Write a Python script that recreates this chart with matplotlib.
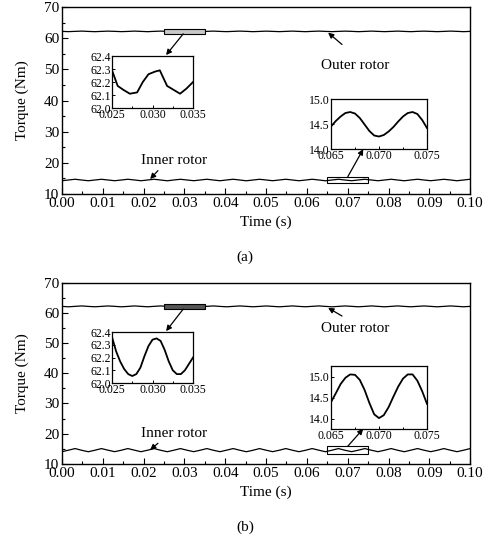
import numpy as np
import matplotlib
matplotlib.use("Agg")
import matplotlib.pyplot as plt
from matplotlib.patches import Rectangle
from matplotlib.ticker import MultipleLocator, FormatStrFormatter

plt.rcParams['font.family'] = ['Liberation Serif', 'DejaVu Serif']

# ---------------- data ----------------
# main traces, sampled every quarter ripple period over 0..0.1 s
n_main = 63
time_main = np.linspace(0.0, 0.1, n_main)

outer_a = [62.20, 62.12, 62.21, 62.29, 62.19, 62.11, 62.20, 62.28,
           62.21, 62.12, 62.19, 62.29, 62.20, 62.11, 62.21, 62.29,
           62.19, 62.12, 62.20, 62.28, 62.20, 62.11, 62.21, 62.29,
           62.19, 62.12, 62.20, 62.29, 62.21, 62.11, 62.19, 62.28,
           62.20, 62.12, 62.20, 62.29, 62.19, 62.11, 62.21, 62.29,
           62.20, 62.12, 62.20, 62.28, 62.21, 62.11, 62.19, 62.29,
           62.20, 62.12, 62.20, 62.29, 62.19, 62.11, 62.21, 62.28,
           62.20, 62.12, 62.20, 62.29, 62.21, 62.11, 62.20]
inner_a = [14.27, 14.51, 14.74, 14.49, 14.26, 14.50, 14.73, 14.50,
           14.27, 14.49, 14.74, 14.51, 14.26, 14.50, 14.74, 14.49,
           14.25, 14.51, 14.73, 14.50, 14.27, 14.50, 14.74, 14.49,
           14.26, 14.51, 14.74, 14.50, 14.25, 14.49, 14.73, 14.51,
           14.27, 14.50, 14.74, 14.50, 14.26, 14.49, 14.74, 14.51,
           14.25, 14.50, 14.74, 14.49, 14.27, 14.51, 14.73, 14.50,
           14.26, 14.50, 14.74, 14.49, 14.25, 14.51, 14.74, 14.50,
           14.27, 14.49, 14.73, 14.51, 14.26, 14.50, 14.74]
outer_b = [62.20, 62.06, 62.21, 62.35, 62.19, 62.07, 62.20, 62.34,
           62.21, 62.06, 62.19, 62.35, 62.20, 62.07, 62.21, 62.35,
           62.19, 62.06, 62.20, 62.34, 62.20, 62.07, 62.21, 62.35,
           62.19, 62.06, 62.20, 62.35, 62.21, 62.07, 62.19, 62.34,
           62.20, 62.06, 62.20, 62.35, 62.19, 62.07, 62.21, 62.35,
           62.20, 62.06, 62.20, 62.34, 62.21, 62.07, 62.19, 62.35,
           62.20, 62.06, 62.20, 62.35, 62.19, 62.07, 62.21, 62.34,
           62.20, 62.06, 62.20, 62.35, 62.21, 62.07, 62.20]
inner_b = [14.01, 14.52, 15.05, 14.48, 14.00, 14.50, 15.04, 14.51,
           14.02, 14.49, 15.05, 14.52, 14.01, 14.50, 15.05, 14.48,
           14.00, 14.51, 15.04, 14.50, 14.02, 14.50, 15.05, 14.49,
           14.01, 14.52, 15.05, 14.50, 14.00, 14.48, 15.04, 14.51,
           14.02, 14.50, 15.05, 14.50, 14.01, 14.49, 15.05, 14.52,
           14.00, 14.50, 15.05, 14.48, 14.02, 14.51, 15.04, 14.50,
           14.01, 14.50, 15.05, 14.49, 14.00, 14.52, 15.05, 14.50,
           14.02, 14.48, 15.04, 14.51, 14.01, 14.50, 15.05]

# zoomed insets
t_zoom_outer_a = [0.0250, 0.0257, 0.0264, 0.0272, 0.0281, 0.0288, 0.0295,
                  0.0303, 0.0309, 0.0318, 0.0326, 0.0334, 0.0342, 0.0350]
zoom_outer_a = [62.29, 62.17, 62.14, 62.11, 62.12, 62.20, 62.26,
                62.28, 62.29, 62.17, 62.14, 62.11, 62.15, 62.20]

t_zoom_outer_b = np.linspace(0.025, 0.035, 21)
zoom_outer_b = [62.36, 62.25, 62.17, 62.11, 62.07, 62.055, 62.07, 62.12,
                62.21, 62.29, 62.34, 62.35, 62.33, 62.26, 62.17, 62.10,
                62.07, 62.07, 62.10, 62.15, 62.20]

t_zoom_inner = np.linspace(0.065, 0.075, 21)
zoom_inner_a = [14.45, 14.56, 14.65, 14.72, 14.74, 14.71, 14.62, 14.49,
                14.36, 14.27, 14.25, 14.28, 14.35, 14.44, 14.55, 14.65,
                14.72, 14.74, 14.70, 14.58, 14.42]
zoom_inner_b = [14.39, 14.60, 14.82, 14.97, 15.05, 15.04, 14.92, 14.68,
                14.37, 14.10, 14.01, 14.08, 14.27, 14.52, 14.76, 14.95,
                15.05, 15.05, 14.90, 14.65, 14.35]

panels = [
    dict(outer=outer_a, inner=inner_a, z_to=t_zoom_outer_a, z_o=zoom_outer_a,
         z_i=zoom_inner_a, inner_ylim=(14.0, 15.0), tag='(a)',
         ax_rect=[0.1265, 0.644, 0.833, 0.343],
         ins_o=[0.2286, 0.8018, 0.1653, 0.0954],
         ins_i=[0.6755, 0.7266, 0.1959, 0.0917],
         box_o=(61.4, 62.9), box_o_fc='#c8c8c8', box_i=(13.5, 15.5),
         outer_txt=51.4, outer_tail=58.0, outer_head=61.8,
         inner_txt=20.8, inner_tail=17.5, inner_head=14.8,
         arr_o_head=54.6, arr_i_head=24.4, tag_y=0.528),
    dict(outer=outer_b, inner=inner_b, z_to=t_zoom_outer_b, z_o=zoom_outer_b,
         z_i=zoom_inner_b, inner_ylim=(13.75, 15.25), tag='(b)',
         ax_rect=[0.1265, 0.149, 0.833, 0.332],
         ins_o=[0.2286, 0.2972, 0.1653, 0.0936],
         ins_i=[0.6755, 0.2128, 0.1959, 0.1156],
         box_o=(61.3, 63.0), box_o_fc='#555555', box_i=(13.2, 15.8),
         outer_txt=55.0, outer_tail=59.0, outer_head=61.7,
         inner_txt=20.0, inner_tail=16.8, inner_head=14.6,
         arr_o_head=54.0, arr_i_head=21.6, tag_y=0.033),
]

fig = plt.figure(figsize=(4.9, 5.45), dpi=100)

arrow_kw = dict(arrowstyle='-|>', color='black', lw=0.9, mutation_scale=8,
                shrinkA=0, shrinkB=0)

for p in panels:
    ax = fig.add_axes(p['ax_rect'])
    ax.plot(time_main, p['outer'], color='black', lw=0.9)
    ax.plot(time_main, p['inner'], color='black', lw=0.9)
    ax.set_xlim(0, 0.1)
    ax.set_ylim(10, 70)
    ax.xaxis.set_major_locator(MultipleLocator(0.01))
    ax.xaxis.set_minor_locator(MultipleLocator(0.005))
    ax.yaxis.set_major_locator(MultipleLocator(10))
    ax.yaxis.set_minor_locator(MultipleLocator(5))
    ax.xaxis.set_major_formatter(FormatStrFormatter('%.2f'))
    ax.tick_params(which='both', direction='in', labelsize=11, pad=2, width=0.8)
    ax.tick_params(which='major', length=4)
    ax.tick_params(which='minor', length=2)
    for s in ax.spines.values():
        s.set_linewidth(1.0)
    ax.set_ylabel('Torque (Nm)', fontsize=11, labelpad=11)
    ax.set_xlabel('Time (s)', fontsize=11, labelpad=4)
    fig.text(0.5, p['tag_y'], p['tag'], ha='center', va='center', fontsize=11)

    # zoom boxes
    ax.add_patch(Rectangle((0.025, p['box_o'][0]), 0.010, p['box_o'][1] - p['box_o'][0],
                           facecolor=p['box_o_fc'], edgecolor='black', lw=0.8, zorder=3))
    ax.add_patch(Rectangle((0.065, p['box_i'][0]), 0.010, p['box_i'][1] - p['box_i'][0],
                           facecolor='none', edgecolor='black', lw=0.8, zorder=3))

    # annotations
    ax.annotate('', xy=(0.0255, p['arr_o_head']), xytext=(0.0297, p['box_o'][0]),
                arrowprops=arrow_kw)
    ax.annotate('', xy=(0.0738, p['arr_i_head']), xytext=(0.0700, p['box_i'][1]),
                arrowprops=arrow_kw)
    ax.text(0.0718, p['outer_txt'], 'Outer rotor', ha='center', va='center', fontsize=11)
    ax.annotate('', xy=(0.0652, p['outer_head']), xytext=(0.0686, p['outer_tail']),
                arrowprops=arrow_kw)
    ax.text(0.0275, p['inner_txt'], 'Inner rotor', ha='center', va='center', fontsize=11)
    ax.annotate('', xy=(0.0216, p['inner_head']), xytext=(0.0235, p['inner_tail']),
                arrowprops=arrow_kw)

    # insets
    a1 = fig.add_axes(p['ins_o'])
    a1.plot(p['z_to'], p['z_o'], color='black', lw=1.3)
    a1.set_xlim(0.025, 0.035)
    a1.set_ylim(62.0, 62.4)
    a1.set_xticks([0.025, 0.030, 0.035])
    a1.set_yticks([62.0, 62.1, 62.2, 62.3, 62.4])
    a1.xaxis.set_minor_locator(MultipleLocator(0.0025))
    a1.xaxis.set_major_formatter(FormatStrFormatter('%.3f'))
    a1.yaxis.set_major_formatter(FormatStrFormatter('%.1f'))

    a2 = fig.add_axes(p['ins_i'])
    a2.plot(t_zoom_inner, p['z_i'], color='black', lw=1.3)
    a2.set_xlim(0.065, 0.075)
    a2.set_ylim(*p['inner_ylim'])
    a2.set_xticks([0.065, 0.070, 0.075])
    a2.set_yticks([14.0, 14.5, 15.0])
    a2.xaxis.set_minor_locator(MultipleLocator(0.0025))
    a2.xaxis.set_major_formatter(FormatStrFormatter('%.3f'))
    a2.yaxis.set_major_formatter(FormatStrFormatter('%.1f'))

    for a in (a1, a2):
        a.tick_params(which='both', direction='in', labelsize=8.5, pad=1, width=0.7)
        a.tick_params(which='major', length=2.5)
        a.tick_params(which='minor', length=1.5)
        for s in a.spines.values():
            s.set_linewidth(0.9)

fig.savefig('out.png', dpi=100)
